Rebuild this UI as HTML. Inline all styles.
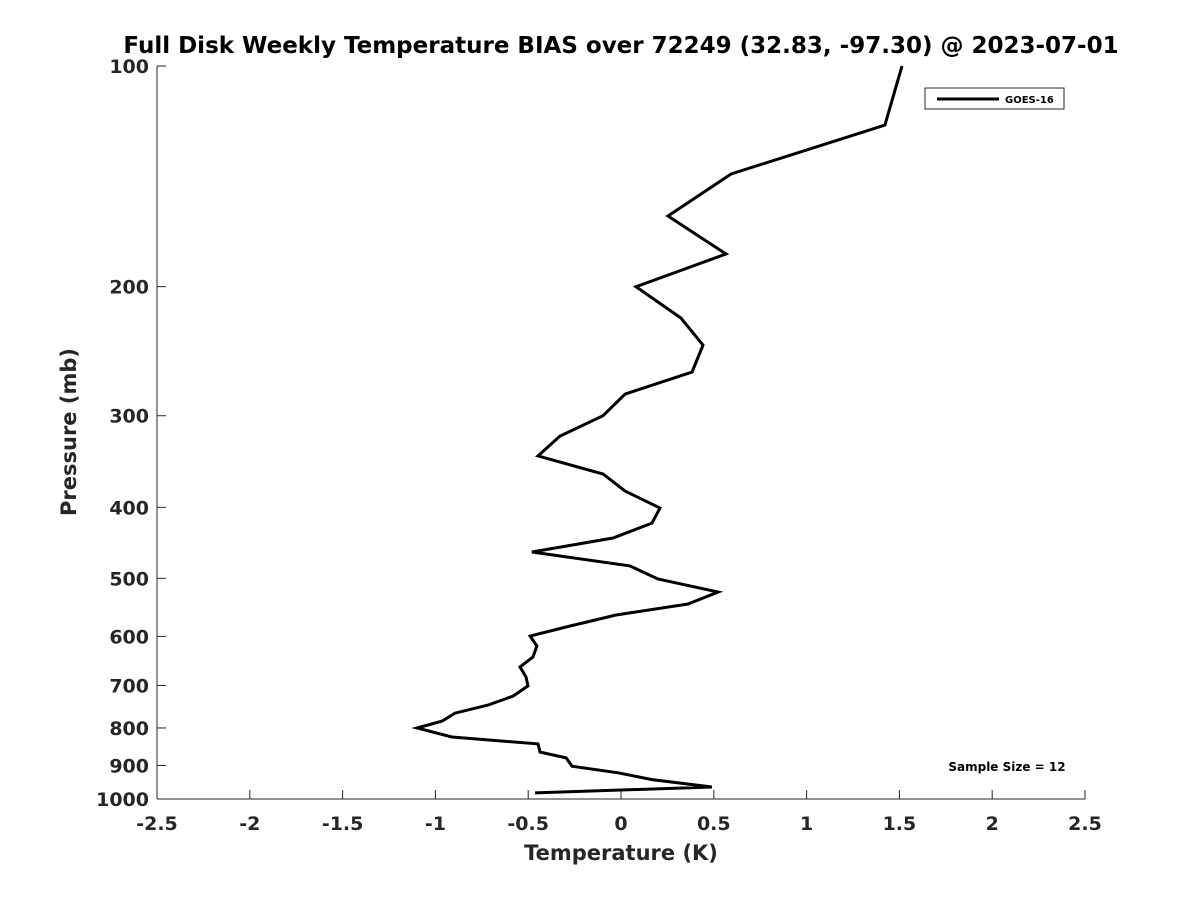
<!DOCTYPE html>
<html><head><meta charset="utf-8"><style>
body{margin:0;background:#fff;}
svg{display:block;font-family:"DejaVu Sans","Liberation Sans",sans-serif;}
</style></head><body>
<svg id="chart" width="1200" height="900" viewBox="0 0 1200 900" xmlns="http://www.w3.org/2000/svg"></svg>
<script>
const temps=[1.514,1.422,0.593,0.253,0.566,0.081,0.323,0.442,0.383,0.022,-0.097,-0.329,-0.447,-0.097,0.022,0.210,0.167,-0.043,-0.480,0.048,0.199,0.523,0.361,-0.027,-0.296,-0.490,-0.453,-0.474,-0.544,-0.512,-0.501,-0.582,-0.717,-0.894,-0.964,-1.099,-0.911,-0.447,-0.436,-0.296,-0.264,-0.016,0.167,0.490,-0.463];
const pressures=[100,120.4,140.4,160.2,180.5,200,220.7,240.3,261.5,280.3,300,319.8,340.4,360.3,380.1,400.9,420.3,440.5,460.3,480.8,501,521.9,542,561,582.6,599.5,618.4,640,660.5,681.7,701,723.7,744.6,763.5,783,800,823,841,863,879,902,921,941,963,981];
const xTicks=[-2.5,-2,-1.5,-1,-0.5,0,0.5,1,1.5,2,2.5];
const xTickLabels=["-2.5","-2","-1.5","-1","-0.5","0","0.5","1","1.5","2","2.5"];
const yTicks=[100,200,300,400,500,600,700,800,900,1000];
const yTickLabels=["100","200","300","400","500","600","700","800","900","1000"];
const L=157,R=1085,T=66,B=799;
const xs=v=>L+(v+2.5)/5*(R-L);
const ys=p=>T+(Math.log10(p)-2)*(B-T);
const svg=document.getElementById('chart');
const NS='http://www.w3.org/2000/svg';
function mk(tag,attrs,txt){const e=document.createElementNS(NS,tag);for(const k in attrs)e.setAttribute(k,attrs[k]);if(txt!==undefined)e.textContent=txt;svg.appendChild(e);return e;}
let e;
e=mk('text',{x:621,y:53,'text-anchor':'middle','font-size':23,'font-weight':'bold',fill:'#000'},'Full Disk Weekly Temperature BIAS over 72249 (32.83, -97.30) @ 2023-07-01');


e=mk('line',{x1:L,y1:T,x2:L,y2:B,stroke:'#262626','stroke-width':1});


e=mk('line',{x1:L,y1:B,x2:R,y2:B,stroke:'#262626','stroke-width':1});


xTicks.forEach((v,i)=>{
  const x=xs(v);
  e=mk('line',{x1:x,y1:B,x2:x,y2:B-9,stroke:'#262626','stroke-width':1});
  
  
  e=mk('text',{x:x,y:B+31,'text-anchor':'middle','font-size':19,'font-weight':'bold',fill:'#262626'},xTickLabels[i]);
  
  
});
yTicks.forEach((p,i)=>{
  const y=ys(p);
  e=mk('line',{x1:L,y1:y,x2:L+9,y2:y,stroke:'#262626','stroke-width':1});
  
  
  e=mk('text',{x:L-8,y:y+7,'text-anchor':'end','font-size':19,'font-weight':'bold',fill:'#262626'},yTickLabels[i]);
  
  
});
e=mk('text',{x:621,y:860,'text-anchor':'middle','font-size':21,'font-weight':'bold',fill:'#262626'},'Temperature (K)');


e=mk('text',{x:76,y:432,'text-anchor':'middle','font-size':21,'font-weight':'bold',fill:'#262626',transform:'rotate(-90 76 432)'},'Pressure (mb)');


const pts=temps.map((t,i)=>xs(t).toFixed(1)+','+ys(pressures[i]).toFixed(1)).join(' ');
e=mk('polyline',{points:pts,fill:'none',stroke:'#000','stroke-width':3,'stroke-linejoin':'miter'});


e=mk('rect',{x:925,y:88,width:139,height:21,fill:'#fff',stroke:'#262626','stroke-width':1});


e=mk('line',{x1:937,y1:99,x2:999,y2:99,stroke:'#000','stroke-width':3});


e=mk('text',{x:1005,y:103,'font-size':10,'font-weight':'bold',fill:'#000'},'GOES-16');


e=mk('text',{x:1007,y:771,'text-anchor':'middle','font-size':12,'font-weight':'bold',fill:'#000'},'Sample Size = 12');


</script>
</body></html>
